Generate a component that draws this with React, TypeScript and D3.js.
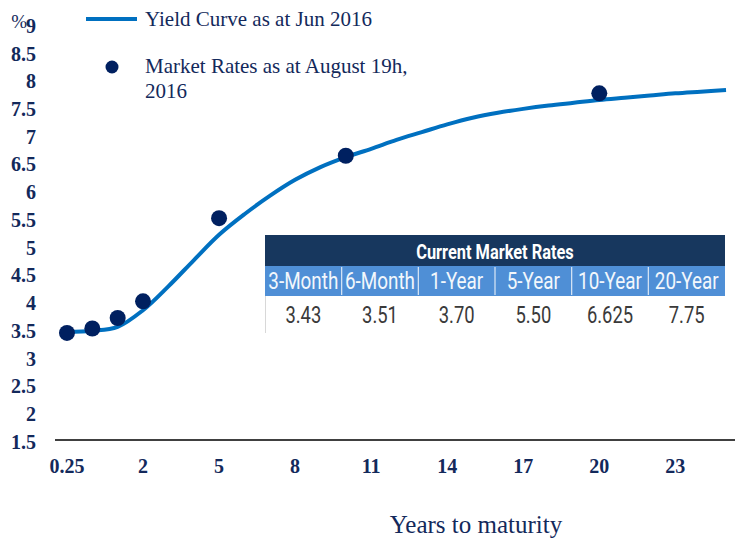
import React from "react";
import * as d3 from "d3";

const maturities = ["0.25","0.5","1","2","3","4","5","6","7","8","9","10","11","12","13","14","15","16","17","18","19","20","21","22","23","24","25"];
const yieldCurve = [3.45,3.47,3.54,3.84,4.27,4.74,5.20,5.57,5.90,6.19,6.42,6.60,6.75,6.91,7.05,7.19,7.31,7.40,7.47,7.53,7.58,7.63,7.67,7.71,7.75,7.78,7.81];
const marketMaturities = ["0.25","0.5","1","2","5","10","20"];
const marketRates = [3.43,3.51,3.70,4.00,5.50,6.625,7.75];
const xTickLabels = ["0.25","2","5","8","11","14","17","20","23"];
const yTicks = [1.5,2,2.5,3,3.5,4,4.5,5,5.5,6,6.5,7,7.5,8,8.5,9];
const tableTitle = "Current Market Rates";
const tableHeaders = ["3-Month","6-Month","1-Year","5-Year","10-Year","20-Year"];
const tableValues = ["3.43","3.51","3.70","5.50","6.625","7.75"];

const W = 735, H = 541;
const NAVY = "#13295B";
const serif = "'Liberation Serif','Times New Roman',serif";
const sans = "Roboto,'Liberation Sans',Arial,sans-serif";

function NarrowText(props: { x: number; y: number; sx: number; size: number; bold?: boolean; fill: string; children: string }) {
  return (
    <g transform={`translate(${props.x},${props.y}) scale(${props.sx},1)`}>
      <text x={0} y={0} textAnchor="middle" fontFamily={sans} fontSize={props.size}
        fontWeight={props.bold ? "bold" : "normal"} fill={props.fill}>{props.children}</text>
    </g>
  );
}

export default function App() {
  const x = d3.scalePoint<string>().domain(maturities).range([54.3, 738.7]).padding(0.5);
  const y = d3.scaleLinear().domain([1.5, 9]).range([440, 24]);
  const line = d3.line<number>()
    .x((_, i) => x(maturities[i]) as number)
    .y((d) => y(d))
    .curve(d3.curveCatmullRom.alpha(0.5));

  const tx = d3.scaleBand<string>().domain(tableHeaders).range([265, 725]);

  return (
    <div style={{ position: "absolute", left: 0, top: 0 }}>
      <svg width={W} height={H} style={{ display: "block", background: "#fff" }}>
        {yTicks.map((t) => (
          <text key={t} x={36} y={y(t) + 8.8} textAnchor="end" fontFamily={serif}
            fontWeight="bold" fontSize={20} fill={NAVY}>{String(t)}</text>
        ))}
        <text x={27} y={28} textAnchor="end" fontFamily={serif} fontSize={19} fill={NAVY}>%</text>

        <line x1={55} x2={735} y1={y(1.5)} y2={y(1.5)} stroke="#000" strokeWidth={1.5} />
        {xTickLabels.map((t) => (
          <text key={t} x={x(t) as number} y={473} textAnchor="middle" fontFamily={serif}
            fontWeight="bold" fontSize={20} fill={NAVY}>{t}</text>
        ))}
        <text x={476} y={533} textAnchor="middle" fontFamily={serif} fontSize={25} fill={NAVY}>Years to maturity</text>

        <rect x={265} y={235} width={460} height={31} fill="#17375E" />
        <NarrowText x={495} y={259} sx={0.78} size={21} bold fill="#fff">{tableTitle}</NarrowText>
        <rect x={265} y={266} width={460} height={30} fill="#4F8FD6" />
        {tableHeaders.map((h, i) => (
          <g key={h}>
            {i > 0 && <line x1={tx(h)} x2={tx(h)} y1={267} y2={295} stroke="#DCE8F6" strokeWidth={1.2} />}
            <NarrowText x={(tx(h) as number) + tx.bandwidth() / 2} y={289} sx={0.82} size={23} fill="#F2F7FC">{h}</NarrowText>
            <NarrowText x={(tx(h) as number) + tx.bandwidth() / 2} y={323} sx={0.8} size={23} fill="#3A3A3A">{tableValues[i]}</NarrowText>
          </g>
        ))}
        <line x1={265.5} x2={265.5} y1={296} y2={333} stroke="#D8D8D8" strokeWidth={1} />

        <path d={line(yieldCurve) || ""} fill="none" stroke="#0070C0" strokeWidth={4} />
        {marketRates.map((v, i) => (
          <circle key={i} cx={x(marketMaturities[i]) as number} cy={y(v)} r={8} fill="#002060" />
        ))}

        <line x1={86} x2={137} y1={19} y2={19} stroke="#0070C0" strokeWidth={4} />
        <text x={145} y={26} fontFamily={serif} fontSize={21} fill={NAVY}>Yield Curve as at Jun 2016</text>
        <circle cx={112} cy={67} r={6.5} fill="#002060" />
        <text x={145} y={73} fontFamily={serif} fontSize={21} fill={NAVY}>Market Rates as at August 19h,</text>
        <text x={145} y={98} fontFamily={serif} fontSize={21} fill={NAVY}>2016</text>
      </svg>
    </div>
  );
}
